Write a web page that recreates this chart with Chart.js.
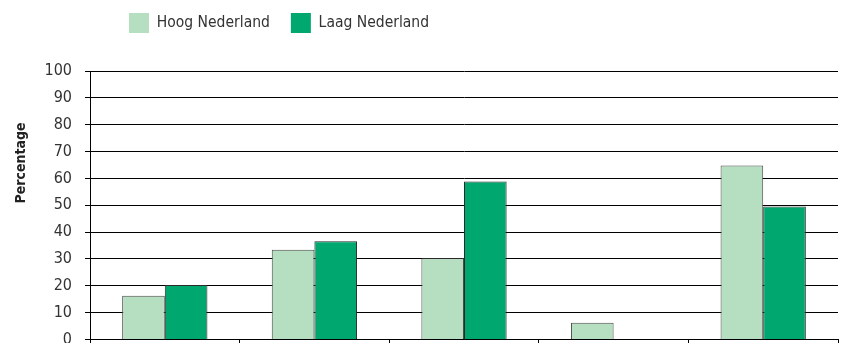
<!DOCTYPE html>
<html>
<head>
<meta charset="utf-8">
<script src="https://cdn.jsdelivr.net/npm/chart.js@4.4.1/dist/chart.umd.min.js"></script>
<style>
    html, body { margin: 0; padding: 0; background: #fff; overflow: hidden; }
    #wrap { position: relative; width: 843px; height: 362px; }
</style>
</head>
<body>
<div id="wrap"><canvas id="chart"></canvas></div>
<script>
// Aandeel per categorie, Hoog vs Laag Nederland
const categories = ['1', '2', '3', '4', '5'];
const hoogNederland = [16.3, 33.4, 30.2, 6.2, 64.8];
const laagNederland = [20.3, 36.6, 58.8, 0, 49.5];
const yTicks = [0, 10, 20, 30, 40, 50, 60, 70, 80, 90, 100];

const FONT = '"DejaVu Sans Condensed", "DejaVu Sans", sans-serif';

// as-titel links, los van het plotgebied gecentreerd
const axisTitle = {
    id: 'axisTitle',
    afterDraw(chart) {
        const ctx = chart.ctx;
        ctx.save();
        ctx.translate(21, 163);
        ctx.rotate(-Math.PI / 2);
        ctx.font = 'bold 14px ' + FONT;
        ctx.fillStyle = '#222';
        ctx.textAlign = 'center';
        ctx.textBaseline = 'middle';
        ctx.fillText('Percentage', 0, 0);
        ctx.restore();
    }
};

// legenda iets naar links schuiven
const legendShift = {
    id: 'legendShift',
    afterLayout(chart) {
        const lg = chart.legend;
        const w = lg.right - lg.left;
        lg.left = 108;
        lg.right = lg.left + w;
        lg.top = -8;
    }
};

new Chart(document.getElementById('chart'), {
    type: 'bar',
    data: {
        labels: categories,
        datasets: [{
            label: 'Hoog Nederland',
            data: hoogNederland,
            backgroundColor: '#b5dfc0',
            borderColor: '#4a4a4a',
            borderWidth: 1
        }, {
            label: 'Laag Nederland',
            data: laagNederland,
            backgroundColor: '#00a870',
            borderColor: '#2a2a2a',
            borderWidth: 1
        }]
    },
    options: {
        responsive: true,
        maintainAspectRatio: false,
        animation: false,
        layout: { padding: { top: 20, right: 5, bottom: 0, left: 0 } },
        datasets: { bar: { categoryPercentage: 0.57, barPercentage: 1.0 } },
        plugins: {
            tooltip: { enabled: false },
            legend: {
                position: 'top',
                align: 'start',
                labels: {
                    boxWidth: 20,
                    boxHeight: 20,
                    padding: 21,
                    color: '#333',
                    font: { family: FONT, size: 15.5 },
                    generateLabels: chart => Chart.defaults.plugins.legend.labels.generateLabels(chart)
                        .map(item => Object.assign(item, { lineWidth: 0 }))
                }
            }
        },
        scales: {
            x: {
                grid: {
                    display: true,
                    drawOnChartArea: false,
                    drawTicks: true,
                    tickLength: 4,
                    color: '#000'
                },
                border: { color: '#000', width: 1 },
                ticks: { display: false }
            },
            y: {
                min: 0,
                max: 100,
                afterBuildTicks: scale => { scale.ticks = yTicks.map(v => ({ value: v })); },
                afterFit: scale => { scale.width = 90; },
                grid: { color: '#000', lineWidth: 1, tickLength: 5 },
                border: { color: '#000', width: 1 },
                ticks: {
                    color: '#333',
                    padding: 13,
                    font: { family: FONT, size: 16 }
                }
            }
        }
    },
    plugins: [axisTitle, legendShift]
});
</script>
</body>
</html>
